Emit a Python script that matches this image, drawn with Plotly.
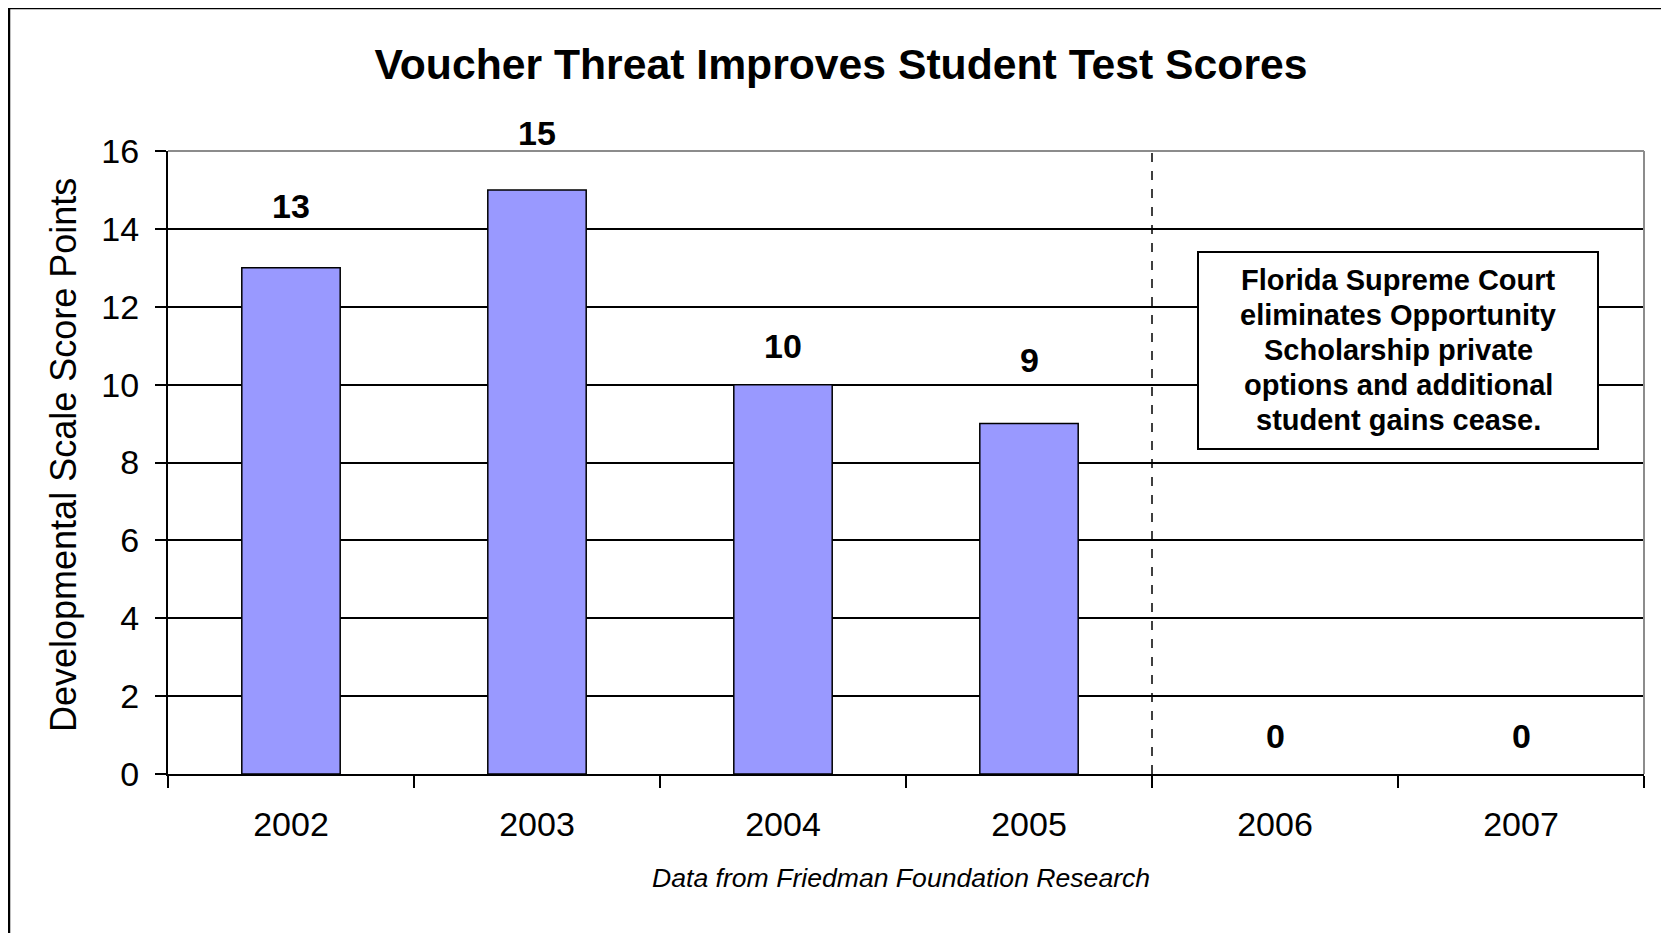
import plotly.graph_objects as go

# ---- data ----
years = ["2002", "2003", "2004", "2005", "2006", "2007"]
gains = [13, 15, 10, 9, 0, 0]
label_texts = ["13", "15", "10", "9", "0", "0"]
label_shift_px = [62, 57, 39, 64, 38, 38]   # vertical offset of value labels (style)
divider_after = "2005"                      # dashed line between 2005 and 2006
y_ticks = [0, 2, 4, 6, 8, 10, 12, 14, 16]

title_text = "Voucher Threat Improves Student Test Scores"
y_title = "Developmental Scale Score Points"
source_text = "Data from Friedman Foundation Research"
note_lines = ["Florida Supreme Court", "eliminates Opportunity", "Scholarship private",
              "options and additional", "student gains cease."]

FONT = "Arial, 'Liberation Sans', sans-serif"
OFF = 8                       # page body margin offset
W, H = 1669 - OFF, 925
L, T = 168 - OFF, 151 - OFF
R = W - (1644 - OFF)
B = H - (774 - OFF)
pw, ph = W - L - R, H - T - B

def px_x(x):  # reference pixel -> paper fraction
    return (x - OFF - L) / pw

def px_y(y):
    return (H - B - (y - OFF)) / ph

fig = go.Figure()
fig.add_trace(go.Bar(
    x=list(range(len(years))), y=gains, width=0.4,
    marker=dict(color="#9999FF",
                line=dict(color="black", width=[1.5 if v > 0 else 0 for v in gains])),
    hovertext=years, hoverinfo="text+y",
))

annotations = []
for i, (v, t, s) in enumerate(zip(gains, label_texts, label_shift_px)):
    annotations.append(dict(x=i, y=v, xref="x", yref="y", text=f"<b>{t}</b>",
                            showarrow=False, yshift=s, yanchor="middle",
                            font=dict(family=FONT, size=34, color="black")))

annotations.append(dict(x=px_x(63), y=px_y(455), xref="paper", yref="paper",
                        text=y_title, textangle=-90, showarrow=False,
                        xanchor="center", yanchor="middle",
                        font=dict(family=FONT, size=36, color="black")))
annotations.append(dict(x=px_x(901), y=px_y(878), xref="paper", yref="paper",
                        text=f"<i>{source_text}</i>", showarrow=False,
                        xanchor="center", yanchor="middle",
                        font=dict(family=FONT, size=26.6, color="black")))

# note box: one text line per annotation for Excel-like line spacing
line_y0, line_step = 279.8, 35.1
for k, line in enumerate(note_lines):
    annotations.append(dict(x=px_x(1398), y=px_y(line_y0 + k * line_step),
                            xref="paper", yref="paper", text=f"<b>{line}</b>",
                            showarrow=False, xanchor="center", yanchor="middle",
                            font=dict(family=FONT, size=29, color="black")))

div_x = years.index(divider_after) + 0.5
shapes = [
    dict(type="line", xref="x", yref="y", x0=div_x, x1=div_x, y0=0, y1=max(y_ticks),
         line=dict(color="black", width=1.5, dash="dash"), layer="above"),
    # gray top and right plot-area border
    dict(type="line", xref="paper", yref="paper", x0=0, x1=1, y0=1, y1=1,
         line=dict(color="#8c8c8c", width=2), layer="above"),
    dict(type="line", xref="paper", yref="paper", x0=1, x1=1, y0=0, y1=1,
         line=dict(color="#8c8c8c", width=2), layer="above"),
    # note box
    dict(type="rect", xref="paper", yref="paper",
         x0=px_x(1198), x1=px_x(1598), y0=px_y(449), y1=px_y(252),
         line=dict(color="black", width=2), fillcolor="white", layer="above"),
    # outer chart border
    dict(type="rect", xref="paper", yref="paper",
         x0=px_x(9), x1=px_x(1664), y0=px_y(990), y1=px_y(8),
         line=dict(color="black", width=2.5), fillcolor="rgba(0,0,0,0)", layer="above"),
]

fig.update_layout(
    width=W, height=H,
    margin=dict(l=L, r=R, t=T, b=B, pad=0, autoexpand=False),
    paper_bgcolor="white", plot_bgcolor="white",
    showlegend=False,
    title=dict(text=f"<b>{title_text}</b>", x=(841 - OFF) / W, xref="container",
               xanchor="center", y=1 - (64 - OFF) / H, yanchor="middle",
               font=dict(family=FONT, size=42.7, color="black")),
    annotations=annotations,
    shapes=shapes,
    xaxis=dict(tickmode="array", tickvals=list(range(len(years))), ticktext=years,
               ticks="", showline=True, linecolor="black",
               linewidth=2, showgrid=False, zeroline=False, ticklabelstandoff=19,
               tickfont=dict(family=FONT, size=34, color="black"),
               range=[-0.5, len(years) - 0.5],
               minor=dict(tickvals=[i - 0.5 for i in range(len(years) + 1)],
                          ticks="outside", ticklen=12, tickwidth=2, tickcolor="black",
                          showgrid=False)),
    yaxis=dict(range=[0, max(y_ticks)], tickvals=y_ticks, ticks="outside", ticklen=11,
               tickwidth=2, tickcolor="black", showline=True, linecolor="black",
               linewidth=2, showgrid=True, gridcolor="black", gridwidth=2,
               zeroline=False, ticklabelstandoff=9,
               tickfont=dict(family=FONT, size=34, color="black")),
)

fig.write_html("out.html")
